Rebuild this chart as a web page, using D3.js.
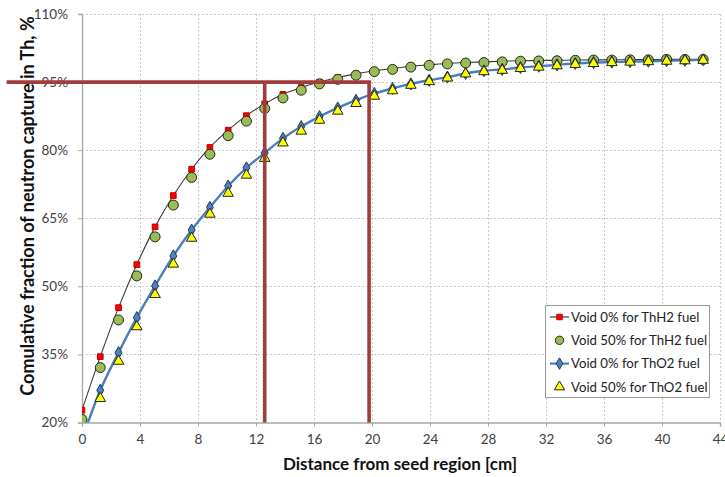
<!DOCTYPE html>
<html>
<head>
<meta charset="utf-8">
<script src="https://cdn.jsdelivr.net/npm/d3@7"></script>
<style>
  html, body { margin: 0; padding: 0; background: #fff; }
  svg { display: block; font-family: Lato, "Open Sans", sans-serif; }
</style>
</head>
<body>
<svg id="chart" width="725" height="477"></svg>
<script>
// Distance from the seed region (cm), one entry per fuel ring
const distance = [0, 1.26, 2.52, 3.78, 5.04, 6.3, 7.56, 8.82, 10.08, 11.34, 12.6, 13.86,
  15.12, 16.38, 17.64, 18.9, 20.16, 21.42, 22.68, 23.94, 25.2, 26.46, 27.72, 28.98,
  30.24, 31.5, 32.76, 34.02, 35.28, 36.54, 37.8, 39.06, 40.32, 41.58, 42.84];

// Cumulative fraction of neutron capture in Th (%)
const thh2Void0 = [22.7, 34.5, 45.3, 54.8, 63.1, 70.0, 75.8, 80.6, 84.4, 87.6, 90.2, 92.3,
  93.8, 95.0, 96.0, 96.8, 97.5, 98.0, 98.5, 98.8, 99.1, 99.3, 99.45, 99.6,
  99.7, 99.75, 99.8, 99.85, 99.9, 99.9, 99.95, 99.95, 100, 100, 100];
const thh2Void50 = [20.7, 32.1, 42.6, 52.3, 60.9, 67.9, 74.0, 79.1, 83.2, 86.4, 89.2, 91.5,
  93.2, 94.6, 95.6, 96.5, 97.3, 97.8, 98.3, 98.7, 99.0, 99.2, 99.3, 99.45,
  99.6, 99.65, 99.7, 99.8, 99.85, 99.85, 99.9, 99.9, 100, 100, 100];
const tho2Void0 = [16.2, 27.1, 35.4, 43.1, 50.1, 56.7, 62.4, 67.4, 72.1, 76.1, 79.4, 82.6,
  85.2, 87.4, 89.3, 91.0, 92.5, 93.6, 94.6, 95.4, 96.1, 96.9, 97.5, 97.8,
  98.2, 98.5, 98.8, 99.1, 99.3, 99.4, 99.5, 99.6, 99.7, 99.8, 99.9];
const tho2Void50 = [14.5, 25.3, 33.5, 41.1, 48.2, 54.9, 60.6, 65.9, 70.5, 74.5, 78.2, 81.6,
  84.2, 86.6, 88.6, 90.3, 91.9, 93.1, 94.3, 95.1, 95.9, 96.8, 97.3, 97.6,
  98.0, 98.3, 98.6, 98.9, 99.1, 99.3, 99.4, 99.5, 99.6, 99.7, 99.8];

const xTicks = [0, 4, 8, 12, 16, 20, 24, 28, 32, 36, 40, 44];
const yTicks = [20, 35, 50, 65, 80, 95, 110];

// 95% capture marker: distances where each fuel reaches 95%
const target = 95;
const reachThH2 = 12.6;
const reachThO2 = 19.8;
const markerStart = -5.2;

const legendLabels = ["Void 0% for ThH2 fuel", "Void 50% for ThH2 fuel",
  "Void 0% for ThO2 fuel", "Void 50% for ThO2 fuel"];

const svg = d3.select("#chart");
const x = d3.scaleLinear().domain([0, 44]).range([82, 720]);
const y = d3.scaleLinear().domain([20, 110]).range([422.5, 14]);

svg.append("defs").append("clipPath").attr("id", "plot")
  .append("rect").attr("x", x(0)).attr("y", y(110))
  .attr("width", x(44) - x(0)).attr("height", y(20) - y(110));

// dotted grid
const grid = svg.append("g").attr("stroke", "#c9c9c9").attr("stroke-dasharray", "2,2").attr("stroke-width", 1);
xTicks.filter(d => d > 0).forEach(d => {
  grid.append("line").attr("x1", x(d) + 0.5).attr("x2", x(d) + 0.5).attr("y1", y(110)).attr("y2", y(20));
});
yTicks.filter(d => d > 20).forEach(d => {
  grid.append("line").attr("x1", x(0)).attr("x2", x(44)).attr("y1", Math.round(y(d)) + 0.5).attr("y2", Math.round(y(d)) + 0.5);
});

// axes
const xAxis = svg.append("g").attr("transform", `translate(0,${y(20)})`)
  .call(d3.axisBottom(x).tickValues(xTicks).tickSize(4).tickPadding(8).tickFormat(d3.format("d")));
const yAxis = svg.append("g").attr("transform", `translate(${x(0)},0)`)
  .call(d3.axisLeft(y).tickValues(yTicks).tickSize(4).tickPadding(10).tickFormat(d => d + "%"));
[xAxis, yAxis].forEach(a => {
  a.select(".domain").attr("stroke", "#a6a6a6").attr("stroke-width", 1.3);
  a.selectAll(".tick line").attr("stroke", "#a6a6a6");
  a.selectAll(".tick text").attr("fill", "#404040").style("font-size", "13.5px").style("font-family", "Lato, sans-serif");
});

// axis titles
svg.append("text").attr("x", 400).attr("y", 470)
  .attr("text-anchor", "middle").attr("font-weight", "bold").attr("font-size", "17px").attr("fill", "#111")
  .text("Distance from seed region [cm]");
svg.append("text").attr("transform", "translate(34,206) rotate(-90)")
  .attr("text-anchor", "middle").attr("font-weight", "bold").attr("font-size", "18px").attr("fill", "#111")
  .text("Comulative fraction of neutron capture in Th, %");

const pts = (vals) => distance.map((d, i) => [d, vals[i]]);
const line = d3.line().x(d => x(d[0])).y(d => y(d[1])).curve(d3.curveCatmullRom.alpha(0.5));

const plot = svg.append("g").attr("clip-path", "url(#plot)");

// series lines
plot.append("path").attr("d", line(pts(thh2Void0))).attr("fill", "none").attr("stroke", "#3a3a3a").attr("stroke-width", 1.1);
plot.append("path").attr("d", line(pts(tho2Void0))).attr("fill", "none").attr("stroke", "#4a7ebb").attr("stroke-width", 2.4);

const sym = (type, size) => d3.symbol().type(type).size(size)();

function drawMarkers(vals, type, size, fill, stroke) {
  plot.append("g").selectAll("path").data(pts(vals)).join("path")
    .attr("transform", d => `translate(${x(d[0])},${y(d[1])})`)
    .attr("d", sym(type, size)).attr("fill", fill).attr("stroke", stroke).attr("stroke-width", 1);
}
drawMarkers(thh2Void0, d3.symbolSquare, 32, "#ff0000", "#c00000");
drawMarkers(thh2Void50, d3.symbolCircle, 78, "#9bbb59", "#1f2a10");
drawMarkers(tho2Void0, d3.symbolDiamond, 42, "#4f81bd", "#1f3a60");
drawMarkers(tho2Void50, d3.symbolTriangle, 48, "#ffff00", "#222");

// 95% reference lines
const ref = svg.append("g").attr("stroke", "#a23b3b").attr("stroke-width", 3.6).attr("fill", "none");
ref.append("line").attr("x1", x(markerStart)).attr("x2", x(reachThO2) + 1.8).attr("y1", y(target)).attr("y2", y(target));
ref.append("line").attr("x1", x(reachThH2)).attr("x2", x(reachThH2)).attr("y1", y(target)).attr("y2", y(20));
ref.append("line").attr("x1", x(reachThO2)).attr("x2", x(reachThO2)).attr("y1", y(target)).attr("y2", y(20));

// legend
const lg = svg.append("g").attr("transform", "translate(545,305)");
lg.append("rect").attr("x", 0.5).attr("y", 0.5).attr("width", 164).attr("height", 92)
  .attr("fill", "#fff").attr("stroke", "#9a9a9a");
const legendStyle = [
  { type: d3.symbolSquare, size: 30, fill: "#ff0000", stroke: "#c00000", line: "#3a3a3a", lw: 1.2 },
  { type: d3.symbolCircle, size: 55, fill: "#9bbb59", stroke: "#1f2a10", line: null },
  { type: d3.symbolDiamond, size: 38, fill: "#4f81bd", stroke: "#1f3a60", line: "#4a7ebb", lw: 2.2 },
  { type: d3.symbolTriangle, size: 45, fill: "#ffff00", stroke: "#222", line: null }
];
legendLabels.forEach((label, i) => {
  const s = legendStyle[i];
  const row = lg.append("g").attr("transform", `translate(0,${12 + i * 23.3})`);
  if (s.line) row.append("line").attr("x1", 5).attr("x2", 24).attr("y1", 0).attr("y2", 0)
    .attr("stroke", s.line).attr("stroke-width", s.lw);
  row.append("path").attr("transform", "translate(14.5,0)").attr("d", sym(s.type, s.size))
    .attr("fill", s.fill).attr("stroke", s.stroke).attr("stroke-width", 1);
  row.append("text").attr("x", 26).attr("y", 4.6).attr("font-size", "13.2px").attr("fill", "#222").text(label);
});
</script>
</body>
</html>
